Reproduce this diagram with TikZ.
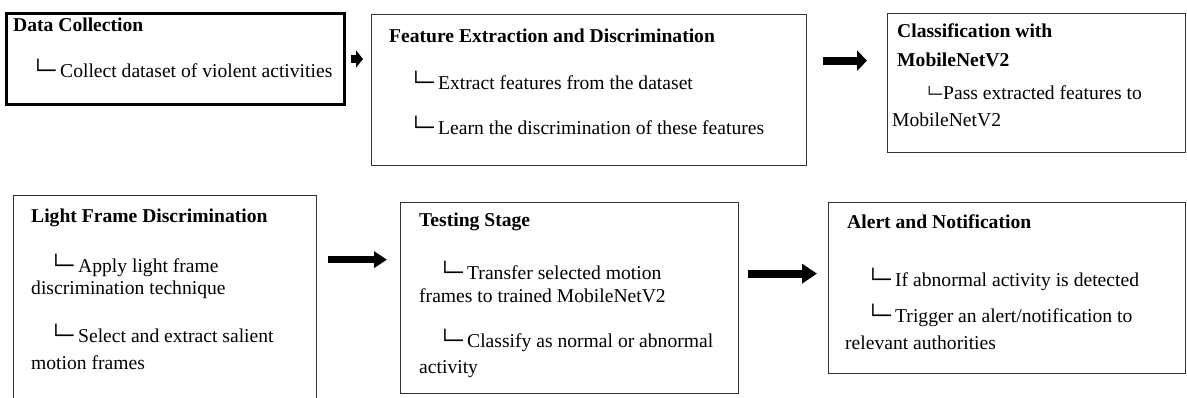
\documentclass[tikz,border=0pt]{standalone}
\usepackage{fontspec}
\setmainfont{Liberation Serif}
\newfontfamily\boxfont{DejaVu Sans Mono}
\usetikzlibrary{arrows.meta}
\newcommand\treemark[1][28pt]{\makebox[#1][l]{\boxfont └─}}
\newcommand\treesmall{\makebox[18pt][l]{\fontsize{14}{14}\boxfont └─}}
\begin{document}
\begin{tikzpicture}[x=1pt,y=-1pt,
  box/.style={draw=black!80, line width=1.3pt, inner sep=0pt, anchor=north west},
  txt/.style={anchor=base west, inner sep=0pt, font=\fontsize{19.6}{23}\selectfont},
  head/.style={anchor=base west, inner sep=0pt, font=\fontsize{19.6}{23}\selectfont\bfseries},
  fatarrow/.style={draw=black, line width=#1},
  fatarrow/.default=8pt
]
\useasboundingbox (0,0) rectangle (1187,398);
\clip (0,0) rectangle (1187,398);

% boxes
\node[box, draw=black, line width=3pt, minimum width=338pt, minimum height=91pt] (b1) at (5,12) {};
\node[box, minimum width=435pt, minimum height=151pt] (b2) at (371,14) {};
\node[box, minimum width=298pt, minimum height=139pt] (b3) at (887,13) {};
\node[box, minimum width=303pt, minimum height=230pt] (b4) at (13,195) {};
\node[box, minimum width=338pt, minimum height=191pt] (b5) at (400,202) {};
\node[box, minimum width=357pt, minimum height=171pt] (b6) at (828,202) {};

% box 1
\node[head] (t1h) at (13,32) {Data Collection};
\node[txt] (t1a) at (32,78) {\treemark Collect dataset of violent activities};
% box 2
\node[head] (t2h) at (389,43) {Feature Extraction and Discrimination};
\node[txt] (t2a) at (410,90) {\treemark Extract features from the dataset};
\node[txt] (t2b) at (410,135) {\treemark Learn the discrimination of these features};
% box 3
\node[head] (t3h) at (897,38) {Classification with};
\node[head] (t3i) at (897,67) {MobileNetV2};
\node[txt] (t3a) at (925,100) {\treesmall Pass extracted features to};
\node[txt] (t3b) at (892,127) {MobileNetV2};
% box 4
\node[head] (t4h) at (31,223) {Light Frame Discrimination};
\node[txt] (t4a) at (50,273) {\treemark Apply light frame};
\node[txt] (t4b) at (31,295) {discrimination technique};
\node[txt] (t4c) at (50,342) {\treemark Select and extract salient};
\node[txt] (t4d) at (31,369) {motion frames};
% box 5
\node[head] (t5h) at (419,227) {Testing Stage};
\node[txt] (t5a) at (439,280) {\treemark Transfer selected motion};
\node[txt] (t5b) at (419,302) {frames to trained MobileNetV2};
\node[txt] (t5c) at (439,348) {\treemark Classify as normal or abnormal};
\node[txt] (t5d) at (419,373) {activity};
% box 6
\node[head] (t6h) at (847,229) {Alert and Notification};
\node[txt] (t6a) at (867,287) {\treemark If abnormal activity is detected};
\node[txt] (t6b) at (867,323) {\treemark Trigger an alert/notification to};
\node[txt] (t6c) at (845,349) {relevant authorities};

% arrow end points
\path (b1.east) ++(5,0) coordinate (a1s);
\path (b2.west |- b1.east) ++(-8,0) coordinate (a1e);
\path (b2.east) ++(16,-29.5) coordinate (a2s);
\path (b3.west) ++(-20,-22.5) coordinate (a2e);
\path (b5.west) ++(-13,-38.5) coordinate (a3e);
\path (b4.east |- a3e) ++(11,0) coordinate (a3s);
\path (b5.east) ++(9,-24.5) coordinate (a4s);
\path (b6.west) ++(-11,-14.5) coordinate (a4e);

% arrows
\draw[fatarrow=8pt, -{Triangle[length=7pt,width=17pt]}] (a1s) -- (a1e);
\draw[fatarrow=8pt, -{Triangle[length=10pt,width=20pt]}] (a2s) -- (a2e);
\draw[fatarrow=7pt, -{Triangle[length=13pt,width=16pt]}] (a3s) -- (a3e);
\draw[fatarrow=8pt, -{Triangle[length=15pt,width=19pt]}] (a4s) -- (a4e);
\end{tikzpicture}
\end{document}
